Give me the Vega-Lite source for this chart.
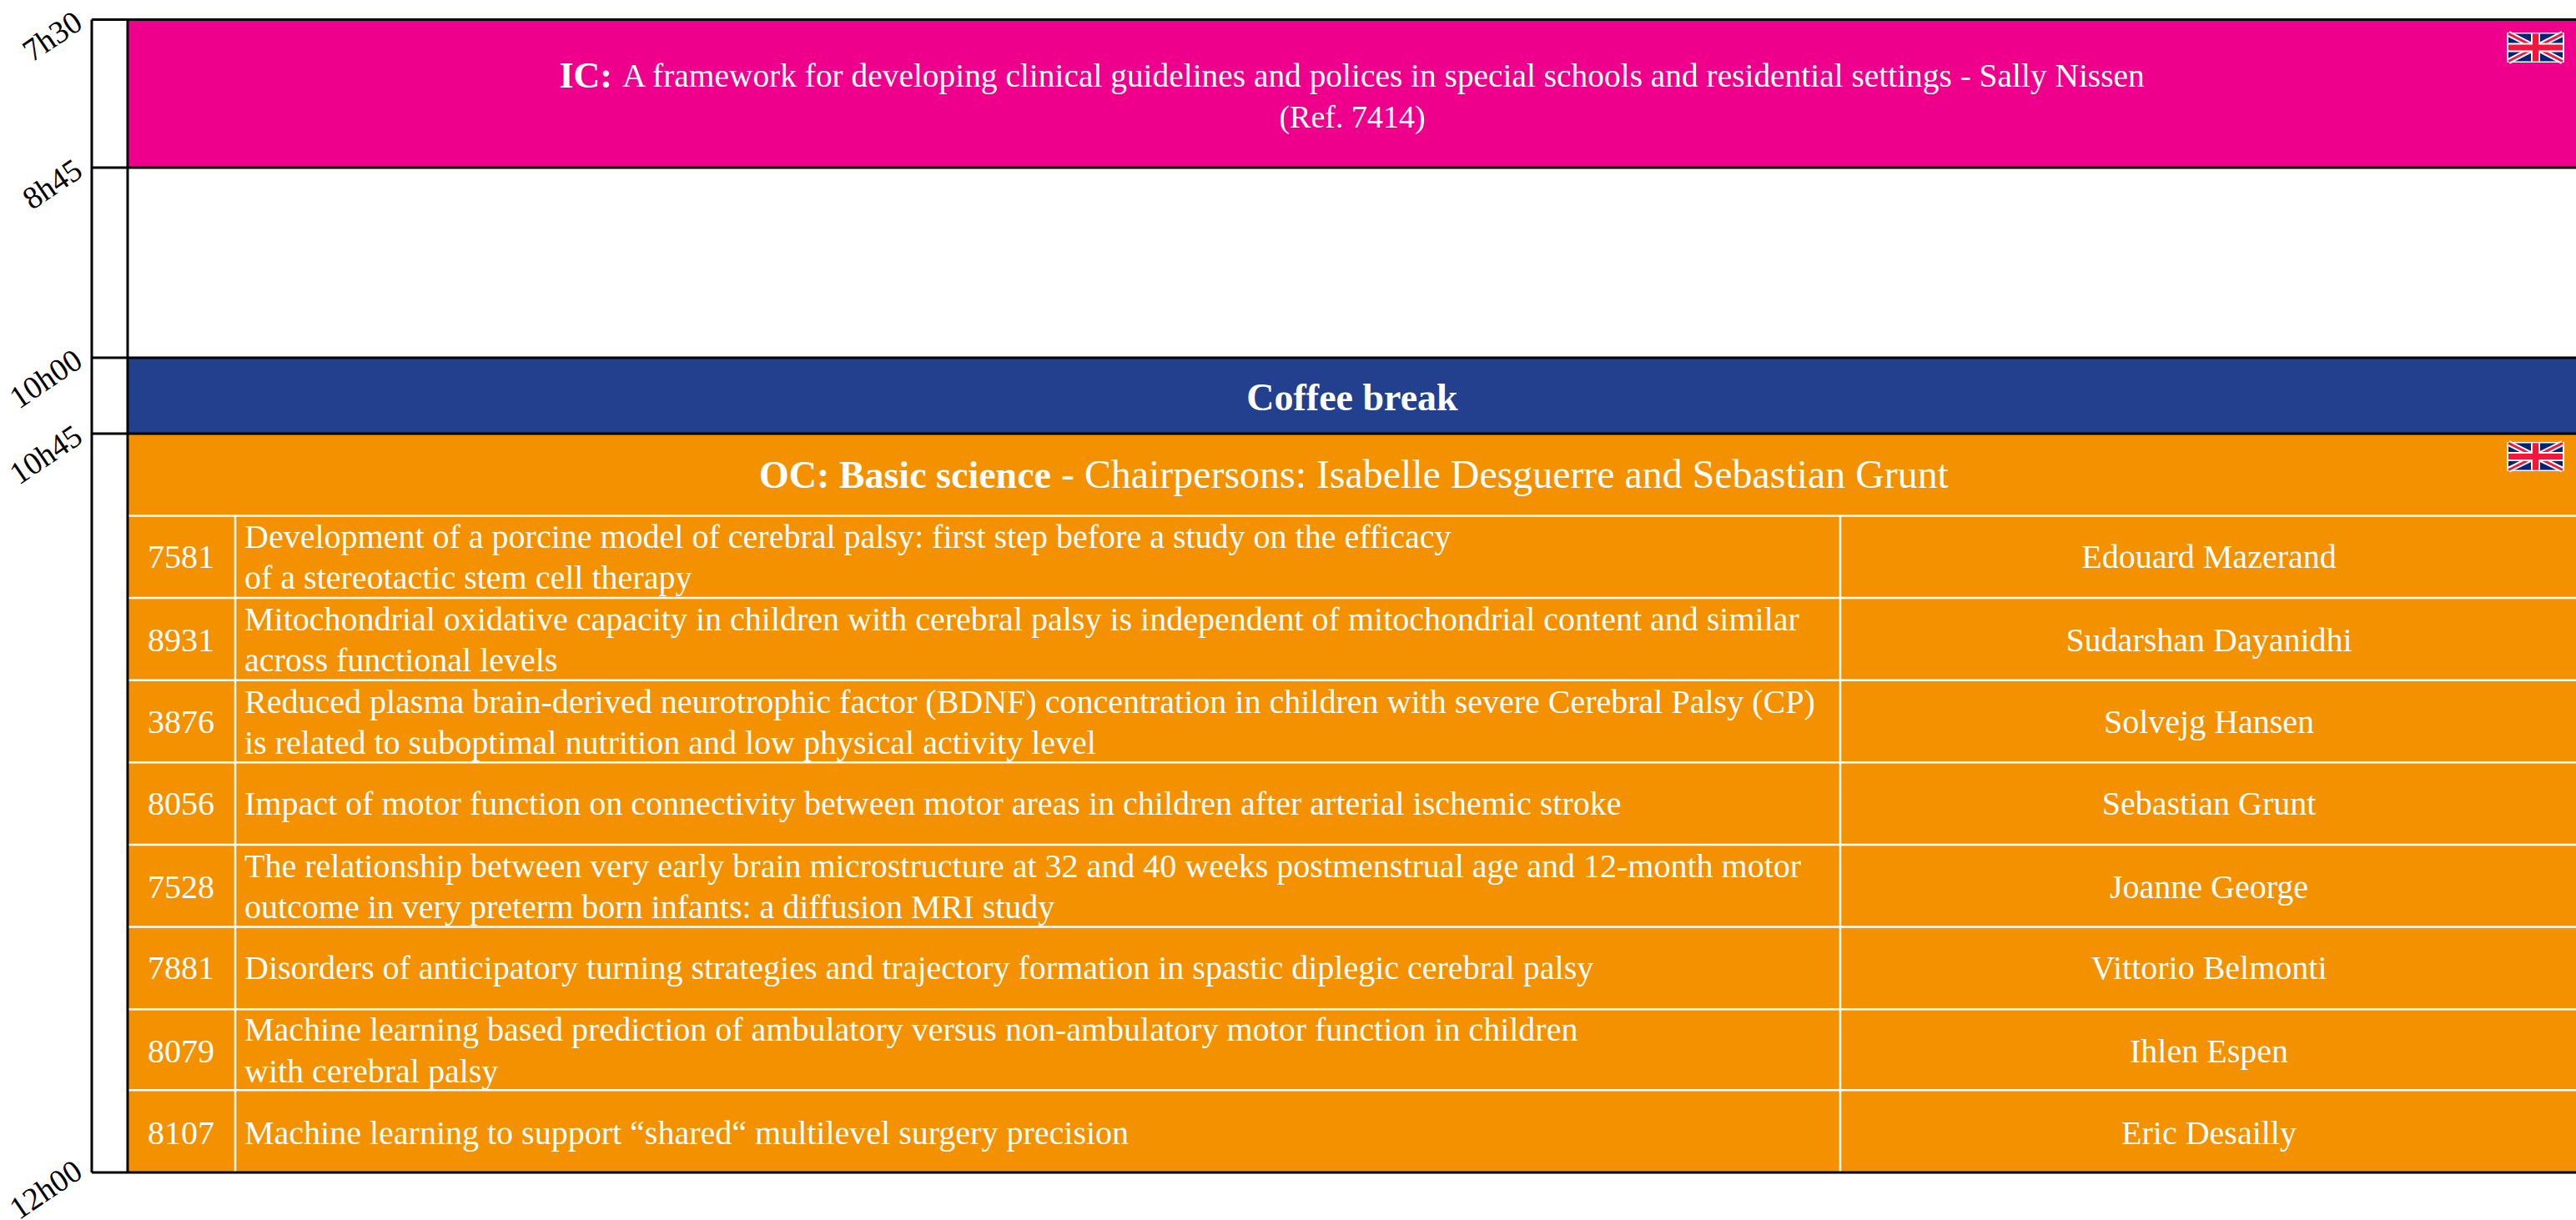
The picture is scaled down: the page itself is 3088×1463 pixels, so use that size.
{"$schema":"https://vega.github.io/schema/vega-lite/v6.json","width":3088,"height":1463,"padding":0,"autosize":{"type":"none"},"background":"white","config":{"view":{"stroke":null},"text":{"font":"Liberation Serif"}},
"datasets":{
"sessions":[{"name":"IC","start":450,"end":525,"color":"#ee008c"},{"name":"Coffee","start":600,"end":645,"color":"#23408e"},{"name":"OC","start":645,"end":720,"color":"#f49100"}],
"times":[{"t":450,"ly":450},{"t":525,"ly":525},{"t":600,"ly":600},{"t":645,"ly":645},{"t":720,"ly":719.6}],
"rows":[{"t":653.33},{"t":661.68},{"t":670.03},{"t":678.38},{"t":686.73},{"t":695.08},{"t":703.43},{"t":711.65}],
"talks":[
{"ref":"7581","presenter":"Edouard Mazerand","mid":657.6},
{"ref":"8931","presenter":"Sudarshan Dayanidhi","mid":666.1},
{"ref":"3876","presenter":"Solvejg Hansen","mid":674.4},
{"ref":"8056","presenter":"Sebastian Grunt","mid":682.65},
{"ref":"7528","presenter":"Joanne George","mid":691.17},
{"ref":"7881","presenter":"Vittorio Belmonti","mid":699.35},
{"ref":"8079","presenter":"Ihlen Espen","mid":707.77},
{"ref":"8107","presenter":"Eric Desailly","mid":716.1}
],
"titles":[
{"line":"Development of a porcine model of cerebral palsy: first step before a study on the efficacy","y":655.55},
{"line":"of a stereotactic stem cell therapy","y":659.7},
{"line":"Mitochondrial oxidative capacity in children with cerebral palsy is independent of mitochondrial content and similar","y":664},
{"line":"across functional levels","y":668.15},
{"line":"Reduced plasma brain-derived neurotrophic factor (BDNF) concentration in children with severe Cerebral Palsy (CP)","y":672.35},
{"line":"is related to suboptimal nutrition and low physical activity level","y":676.5},
{"line":"Impact of motor function on connectivity between motor areas in children after arterial ischemic stroke","y":682.65},
{"line":"The relationship between very early brain microstructure at 32 and 40 weeks postmenstrual age and 12-month motor","y":689.05},
{"line":"outcome in very preterm born infants: a diffusion MRI study","y":693.2},
{"line":"Disorders of anticipatory turning strategies and trajectory formation in spastic diplegic cerebral palsy","y":699.35},
{"line":"Machine learning based prediction of ambulatory versus non-ambulatory motor function in children","y":705.65},
{"line":"with cerebral palsy","y":709.8},
{"line":"Machine learning to support “shared“ multilevel surgery precision","y":716.1}
],
"flagRects":[
{"x0":3005,"x1":3074,"y0":456.5,"y1":471.7,"c":"#ffffff"},
{"x0":3007,"x1":3072,"y0":457.1,"y1":471.1,"c":"#00247d"},
{"x0":3005,"x1":3074,"y0":645.85,"y1":648.8,"c":"#ffffff"},
{"x0":3007,"x1":3072,"y0":645.97,"y1":648.68,"c":"#00247d"}
],
"flagLines":[
{"x0":3007,"x1":3072,"y0":457.1,"y1":471.1,"c":"#ffffff","w":7},
{"x0":3007,"x1":3072,"y0":471.1,"y1":457.1,"c":"#ffffff","w":7},
{"x0":3007,"x1":3072,"y0":457.1,"y1":471.1,"c":"#f0183c","w":3},
{"x0":3007,"x1":3072,"y0":471.1,"y1":457.1,"c":"#f0183c","w":3},
{"x0":3039.5,"x1":3039.5,"y0":457.1,"y1":471.1,"c":"#ffffff","w":11},
{"x0":3007,"x1":3072,"y0":464.1,"y1":464.1,"c":"#ffffff","w":11},
{"x0":3039.5,"x1":3039.5,"y0":457.1,"y1":471.1,"c":"#f0183c","w":7},
{"x0":3007,"x1":3072,"y0":464.1,"y1":464.1,"c":"#f0183c","w":7},
{"x0":3007,"x1":3072,"y0":645.97,"y1":648.68,"c":"#ffffff","w":7},
{"x0":3007,"x1":3072,"y0":648.68,"y1":645.97,"c":"#ffffff","w":7},
{"x0":3007,"x1":3072,"y0":645.97,"y1":648.68,"c":"#f0183c","w":3},
{"x0":3007,"x1":3072,"y0":648.68,"y1":645.97,"c":"#f0183c","w":3},
{"x0":3039.5,"x1":3039.5,"y0":645.97,"y1":648.68,"c":"#ffffff","w":11},
{"x0":3007,"x1":3072,"y0":647.33,"y1":647.33,"c":"#ffffff","w":11},
{"x0":3039.5,"x1":3039.5,"y0":645.97,"y1":648.68,"c":"#f0183c","w":7},
{"x0":3007,"x1":3072,"y0":647.33,"y1":647.33,"c":"#f0183c","w":7}
]},
"encoding":{"x":{"type":"quantitative","scale":{"domain":[0,3088],"range":[0,3088]},"axis":null},
"y":{"type":"quantitative","scale":{"domain":[450,525,600,645,720],"range":[23.6,201,429,520,1406]},"axis":null}},
"layer":[
{"data":{"name":"sessions"},"mark":{"type":"rect"},"encoding":{"x":{"datum":153},"x2":{"datum":3088},"y":{"field":"start","type":"quantitative"},"y2":{"field":"end"},"fill":{"field":"color","type":"nominal","scale":null}}},
{"data":{"name":"rows"},"mark":{"type":"rule","color":"white","strokeWidth":2.5},"encoding":{"x":{"datum":153},"x2":{"datum":3088},"y":{"field":"t","type":"quantitative"}}},
{"data":{"values":[{"x":282},{"x":2206}]},"mark":{"type":"rule","color":"white","strokeWidth":2.5},"encoding":{"x":{"field":"x","type":"quantitative"},"y":{"datum":653.33},"y2":{"datum":720}}},
{"data":{"name":"times"},"mark":{"type":"rule","color":"black","strokeWidth":3},"encoding":{"x":{"datum":110},"x2":{"datum":3088},"y":{"field":"t","type":"quantitative"}}},
{"data":{"values":[{"x":110},{"x":153}]},"mark":{"type":"rule","color":"black","strokeWidth":3},"encoding":{"x":{"field":"x","type":"quantitative"},"y":{"datum":450},"y2":{"datum":720}}},
{"data":{"name":"times"},"mark":{"type":"text","align":"right","baseline":"middle","angle":326,"fontSize":38,"color":"black"},"transform":[{"calculate":"floor(datum.t/60)+'h'+(datum.t%60<10?'0':'')+(datum.t%60)","as":"label"}],"encoding":{"x":{"datum":95},"y":{"field":"ly","type":"quantitative"},"text":{"field":"label"}}},
{"data":{"values":[{"text":"IC:"}]},"mark":{"type":"text","align":"right","baseline":"middle","color":"white","fontSize":44,"fontWeight":"bold"},"encoding":{"x":{"datum":734},"y":{"datum":479.1},"text":{"field":"text"}}},
{"data":{"values":[{"text":"A framework for developing clinical guidelines and polices in special schools and residential settings - Sally Nissen"}]},"mark":{"type":"text","align":"left","baseline":"middle","color":"white","fontSize":39.4},"encoding":{"x":{"datum":746},"y":{"datum":479.1},"text":{"field":"text"}}},
{"data":{"values":[{"text":"(Ref. 7414)"}]},"mark":{"type":"text","align":"center","baseline":"middle","color":"white","fontSize":38},"encoding":{"x":{"datum":1621},"y":{"datum":500},"text":{"field":"text"}}},
{"data":{"values":[{"text":"Coffee break"}]},"mark":{"type":"text","align":"center","baseline":"middle","color":"white","fontSize":46,"fontWeight":"bold"},"encoding":{"x":{"datum":1621},"y":{"datum":624.2},"text":{"field":"text"}}},
{"data":{"values":[{"text":"OC: Basic science"}]},"mark":{"type":"text","align":"right","baseline":"middle","color":"white","fontSize":46,"fontWeight":"bold"},"encoding":{"x":{"datum":1260},"y":{"datum":649.3},"text":{"field":"text"}}},
{"data":{"values":[{"text":"- Chairpersons: Isabelle Desguerre and Sebastian Grunt"}]},"mark":{"type":"text","align":"left","baseline":"middle","color":"white","fontSize":47.9},"encoding":{"x":{"datum":1272},"y":{"datum":649.3},"text":{"field":"text"}}},
{"data":{"name":"talks"},"mark":{"type":"text","align":"center","baseline":"middle","color":"white","fontSize":40},"encoding":{"x":{"datum":217},"y":{"field":"mid","type":"quantitative"},"text":{"field":"ref"}}},
{"data":{"name":"titles"},"mark":{"type":"text","align":"left","baseline":"middle","color":"white","fontSize":40},"encoding":{"x":{"datum":293},"y":{"field":"y","type":"quantitative"},"text":{"field":"line"}}},
{"data":{"name":"talks"},"mark":{"type":"text","align":"center","baseline":"middle","color":"white","fontSize":40},"encoding":{"x":{"datum":2648},"y":{"field":"mid","type":"quantitative"},"text":{"field":"presenter"}}},
{"data":{"name":"flagRects"},"mark":{"type":"rect"},"encoding":{"x":{"field":"x0","type":"quantitative"},"x2":{"field":"x1"},"y":{"field":"y0","type":"quantitative"},"y2":{"field":"y1"},"fill":{"field":"c","type":"nominal","scale":null}}},
{"data":{"name":"flagLines"},"mark":{"type":"rule"},"encoding":{"x":{"field":"x0","type":"quantitative"},"x2":{"field":"x1"},"y":{"field":"y0","type":"quantitative"},"y2":{"field":"y1"},"stroke":{"field":"c","type":"nominal","scale":null},"strokeWidth":{"field":"w","type":"quantitative","scale":null}}}
]}
